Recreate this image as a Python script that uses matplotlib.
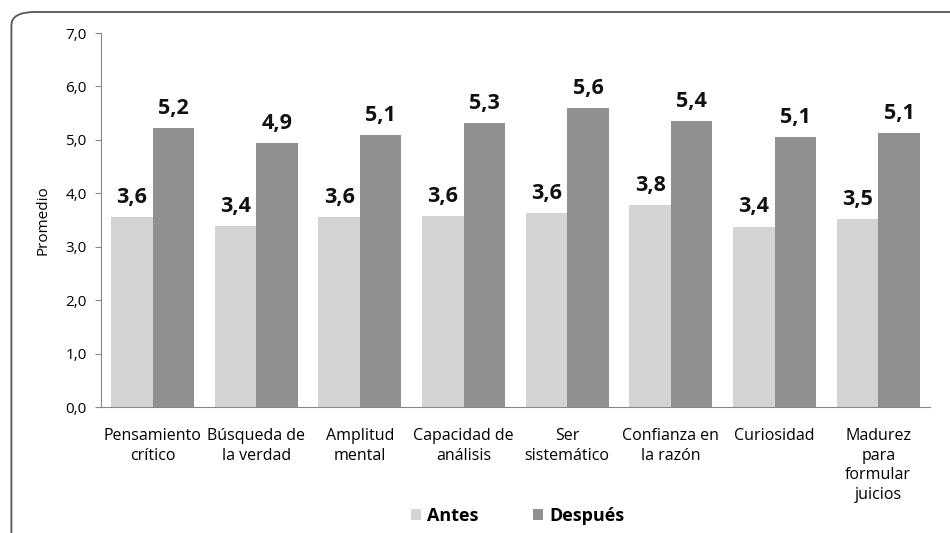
import matplotlib.pyplot as plt
import numpy as np
from matplotlib.patches import FancyBboxPatch

categorias = ["Pensamiento\ncrítico", "Búsqueda de\nla verdad", "Amplitud\nmental",
              "Capacidad de\nanálisis", "Ser\nsistemático", "Confianza en\nla razón",
              "Curiosidad", "Madurez\npara\nformular\njuicios"]
antes = [3.56, 3.39, 3.56, 3.58, 3.64, 3.78, 3.38, 3.52]
despues = [5.22, 4.94, 5.10, 5.32, 5.60, 5.36, 5.06, 5.13]
series = ["Antes", "Después"]

plt.rcParams['font.family'] = ['Open Sans', 'DejaVu Sans']

fig = plt.figure(figsize=(9.5, 5.33), dpi=100)
# marco redondeado (sale por la derecha y por abajo)
marco = FancyBboxPatch((0.012, -0.06), 1.1, 1.0375, boxstyle="round,pad=0,rounding_size=0.025",
                       transform=fig.transFigure, fill=False, ec='#555555', lw=1.3)
fig.patches.append(marco)

ax = fig.add_axes([0.106, 0.236, 0.873, 0.702])
x = np.arange(len(categorias))
w = 0.4
b1 = ax.bar(x - w/2, antes, w, color='#d2d3d2', label=series[0])
b2 = ax.bar(x + w/2, despues, w, color='#8f9190', label=series[1])

for bars in (b1, b2):
    for r in bars:
        h = r.get_height()
        ax.text(r.get_x() + r.get_width()/2, h + 0.17, f"{h:.1f}".replace('.', ','),
                ha='center', va='bottom', fontsize=15.5, fontweight='bold', color='#111111')

ax.set_xlim(-0.5, len(categorias) - 0.5)
ax.set_ylim(0, 7)
ax.set_yticks(np.arange(0, 7.1, 1))
ax.set_yticklabels([f"{v:.1f}".replace('.', ',') for v in np.arange(0, 7.1, 1)], fontsize=11)
ax.set_xticks(x)
ax.set_xticklabels(categorias, fontsize=11.5, linespacing=1.3)
ax.tick_params(axis='x', length=0, pad=15)
ax.tick_params(axis='y', length=4, color='#888888', pad=6)
for s in ['top', 'right']:
    ax.spines[s].set_visible(False)
for s in ['left', 'bottom']:
    ax.spines[s].set_color('#888888')
ax.set_ylabel("Promedio", fontsize=11, labelpad=11)

fig.legend(handles=[b1, b2], labels=series, loc='center', bbox_to_anchor=(0.545, 0.032),
           ncol=2, frameon=False, prop={'weight': 'bold', 'size': 13},
           handlelength=0.55, handleheight=0.55, columnspacing=3, handletextpad=0.35)

fig.savefig("out.png", dpi=100)
